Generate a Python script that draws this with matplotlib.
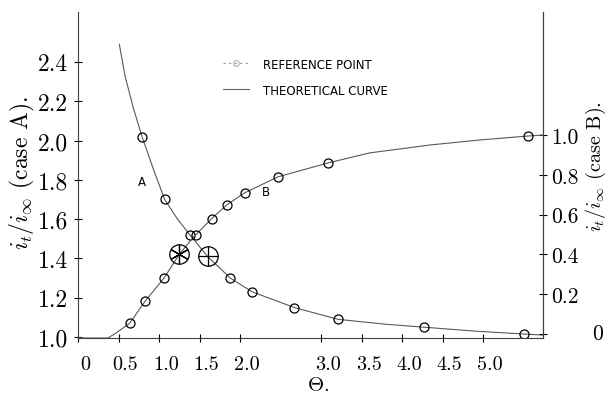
import matplotlib
matplotlib.use("Agg")
import matplotlib.pyplot as plt
from matplotlib.lines import Line2D
from matplotlib.transforms import ScaledTranslation

plt.rcParams["font.family"] = ["cmr10", "DejaVu Serif"]
plt.rcParams["mathtext.fontset"] = "cm"
plt.rcParams["axes.unicode_minus"] = False
plt.rcParams["axes.formatter.use_mathtext"] = True

# ----- case A (left axis) -----
theta_a_pts = [0.79, 1.07, 1.38, 1.60, 1.88, 2.15, 2.67, 3.21, 4.27, 5.51]
val_a_pts = [2.02, 1.70, 1.52, 1.41, 1.30, 1.23, 1.15, 1.09, 1.05, 1.015]
a_big = 3  # circled "+" point

theta_a_curve = [0.51, 0.58, 0.68, 0.79, 0.93, 1.07, 1.22, 1.38, 1.60, 1.88, 2.15,
                 2.67, 3.21, 3.80, 4.27, 4.90, 5.51, 5.74]
val_a_curve = [2.49, 2.33, 2.17, 2.02, 1.855, 1.70, 1.605, 1.52, 1.41, 1.30, 1.23,
               1.15, 1.09, 1.065, 1.05, 1.03, 1.015, 1.01]

# ----- case B (right axis) -----
theta_b_pts = [0.64, 0.83, 1.06, 1.25, 1.46, 1.65, 1.84, 2.06, 2.47, 3.09, 5.56]
val_b_pts = [0.055, 0.166, 0.28, 0.40, 0.50, 0.58, 0.65, 0.71, 0.79, 0.86, 0.995]
b_big = 3  # circled asterisk point

theta_b_curve = [0.0, 0.37, 0.47, 0.64, 0.83, 1.06, 1.25, 1.41, 1.65, 1.84,
                 2.06, 2.47, 3.09, 3.60, 4.35, 4.96, 5.56, 5.74]
val_b_curve = [-0.02, -0.02, 0.005, 0.055, 0.166, 0.28, 0.40, 0.48, 0.58, 0.65,
               0.71, 0.79, 0.86, 0.91, 0.95, 0.975, 0.995, 1.0]

x_ticks = [0, 0.5, 1.0, 1.5, 2.0, 3.0, 3.5, 4.0, 4.5, 5.0]
x_labels = ["0", "0.5", "1.0", "1.5", "2.0", "3.0", "3.5", "4.0", "4.5", "5.0"]
ya_ticks = [1.0, 1.2, 1.4, 1.6, 1.8, 2.0, 2.2, 2.4]
ya_labels = ["1.0", "1.2", "1.4", "1.6", "1.8", "2.0", "2.2", "2.4"]
yb_ticks = [0, 0.2, 0.4, 0.6, 0.8, 1.0]
yb_labels = ["0", "0.2", "0.4", "0.6", "0.8", "1.0"]

W, H = 609, 402
fig = plt.figure(figsize=(W / 100, H / 100), dpi=100)
ax = fig.add_axes([78 / W, 1 - 339 / H, 465 / W, 326 / H])
ax2 = ax.twinx()

line_kw = dict(color="0.35", lw=0.8)
pt_kw = dict(ls="none", marker="o", ms=6.5, mfc="none", mec="k", mew=0.9)
big_kw = dict(ls="none", ms=14, mfc="none", mec="k", mew=0.9)

# case A
ax.plot(theta_a_curve, val_a_curve, **line_kw)
small_a = [i for i in range(len(theta_a_pts)) if i != a_big]
ax.plot([theta_a_pts[i] for i in small_a], [val_a_pts[i] for i in small_a], **pt_kw)
ax.plot(theta_a_pts[a_big], val_a_pts[a_big], marker="o", **big_kw)
ax.plot(theta_a_pts[a_big], val_a_pts[a_big], marker="+", **big_kw)

# case B
ax2.plot(theta_b_curve, val_b_curve, **line_kw)
small_b = [i for i in range(len(theta_b_pts)) if i != b_big]
ax2.plot([theta_b_pts[i] for i in small_b], [val_b_pts[i] for i in small_b], **pt_kw)
ax2.plot(theta_b_pts[b_big], val_b_pts[b_big], marker="o", **big_kw)
ax2.plot(theta_b_pts[b_big], val_b_pts[b_big], marker=(6, 2, 0), **big_kw)

ax.text(0.79, 1.79, "A", family="DejaVu Sans", fontsize=8.5, ha="center", va="center")
ax.text(2.32, 1.74, "B", family="DejaVu Sans", fontsize=8.5, ha="center", va="center")

# ----- axes -----
ax.set_xlim(0, 5.74)
ax.set_ylim(0.995, 2.654)
ax2.set_ylim(-0.02, 1.618)

for a in (ax, ax2):
    a.spines["top"].set_visible(False)
    for s in a.spines.values():
        s.set_linewidth(0.8)
        s.set_color("0.25")
ax2.spines["left"].set_visible(False)
ax2.spines["bottom"].set_visible(False)

ax.set_xticks(x_ticks)
ax.set_xticklabels(x_labels, fontsize=14.5)
ax.set_yticks(ya_ticks)
ax.set_yticklabels(ya_labels, fontsize=17)
ax2.set_yticks(yb_ticks)
ax2.set_yticklabels(yb_labels, fontsize=15.5)

ax.tick_params(axis="x", direction="inout", length=6, width=0.8, pad=9)
ax.tick_params(axis="y", direction="inout", length=6, width=0.8, pad=4)
ax2.tick_params(axis="y", direction="inout", length=6, width=0.8, pad=3)

shift = ScaledTranslation(0.07, 0, fig.dpi_scale_trans)
for lab in ax.get_xticklabels():
    lab.set_transform(lab.get_transform() + shift)
for lab in ax2.get_yticklabels():
    if lab.get_text() == "0":
        lab.set_transform(lab.get_transform() + ScaledTranslation(0.41, 0.03, fig.dpi_scale_trans))

ax.set_ylabel(r"$i_t/i_\infty$ (case A).", fontsize=17)
ax.yaxis.set_label_coords(-0.088, 0.51)
ax2.set_ylabel(r"$i_t/i_\infty$ (case B).", fontsize=14.5)
ax2.yaxis.set_label_coords(1.088, 0.53)
ax.set_xlabel(r"$\Theta$.", fontsize=15)
ax.xaxis.set_label_coords(0.516, -0.117)

# ----- legend -----
handles = [
    Line2D([], [], color="0.6", lw=0.8, ls=(0, (2, 3)), marker="o", ms=4,
           mfc="none", mec="0.75"),
    Line2D([], [], color="0.4", lw=0.8),
]
ax.legend(handles, ["REFERENCE POINT", "THEORETICAL CURVE"],
          loc="upper left", bbox_to_anchor=(212 / W, 1 - 48 / H),
          bbox_transform=fig.transFigure, frameon=False,
          prop={"family": "DejaVu Sans", "size": 8.5},
          handlelength=2.2, handletextpad=1.2, labelspacing=1.1)

fig.savefig("out.png", dpi=100)
